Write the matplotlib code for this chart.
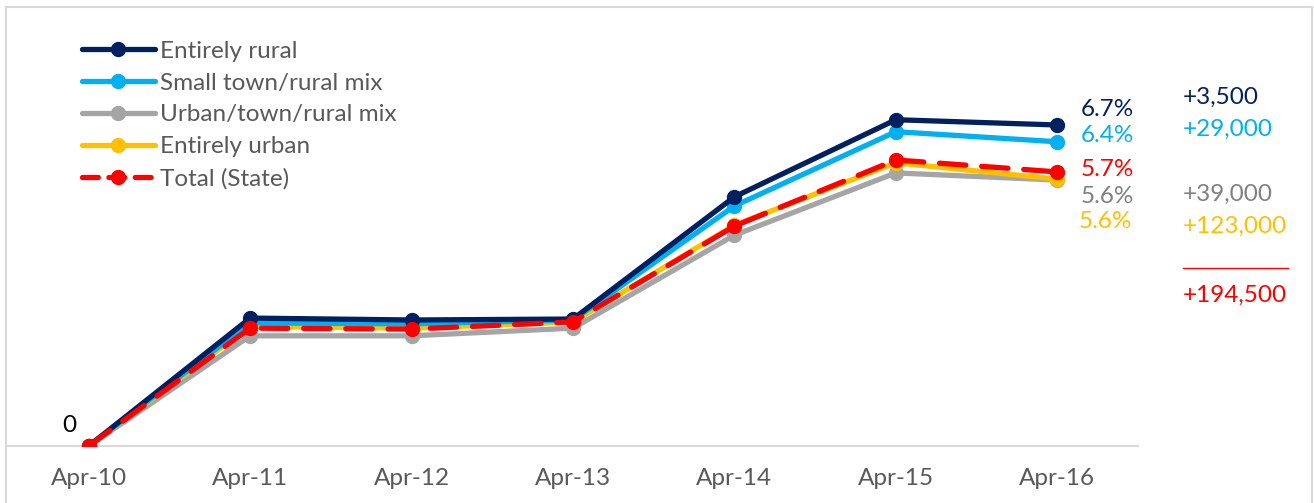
import matplotlib
matplotlib.use("Agg")
import matplotlib.pyplot as plt
from matplotlib.lines import Line2D

plt.rcParams['font.family'] = ['Lato', 'DejaVu Sans']

# Data (percent growth vs Apr-10)
months = ["Apr-10", "Apr-11", "Apr-12", "Apr-13", "Apr-14", "Apr-15", "Apr-16"]
entirely_rural = [0, 2.67, 2.63, 2.65, 5.20, 6.81, 6.70]
small_town = [0, 2.57, 2.55, 2.63, 5.01, 6.56, 6.35]
urban_town_rural = [0, 2.30, 2.30, 2.46, 4.40, 5.70, 5.55]
entirely_urban = [0, 2.50, 2.46, 2.59, 4.61, 5.91, 5.57]
total_state = [0, 2.46, 2.44, 2.59, 4.59, 5.97, 5.72]

series_names = ["Entirely rural", "Small town/rural mix", "Urban/town/rural mix",
                "Entirely urban", "Total (State)"]
end_labels = ["6.7%", "6.4%", "5.6%", "5.6%", "5.7%"]
change_labels = ["+3,500", "+29,000", "+39,000", "+123,000"]
total_change = "+194,500"

navy = "#002060"
lblue = "#00B0F0"
gray = "#A5A5A5"
yellow = "#FFC000"
red = "#FF0000"
txt = "#595959"
fs = 17.5

W, H = 1314, 503
fig = plt.figure(figsize=(W / 100, H / 100), dpi=100)
ax = fig.add_axes([8 / W, 1 - 446 / H, 1130 / W, 436 / H])

x = list(range(len(months)))
lw = 3.8
ms = 10
ax.plot(x, urban_town_rural, color=gray, lw=lw, marker='o', ms=ms, zorder=2,
        solid_capstyle='round')
ax.plot(x, entirely_urban, color=yellow, lw=lw, marker='o', ms=ms, zorder=3,
        solid_capstyle='round')
ax.plot(x, small_town, color=lblue, lw=lw, marker='o', ms=ms, zorder=4,
        solid_capstyle='round')
ax.plot(x, entirely_rural, color=navy, lw=lw, marker='o', ms=ms, zorder=5,
        solid_capstyle='round')
ax.plot(x, total_state, color=red, lw=lw, marker='o', ms=ms, zorder=6,
        dashes=(5, 3), dash_capstyle='round')

ax.set_xlim(-0.5, 6.5)
ax.set_ylim(0, 9.1)
ax.set_xticks(x)
ax.set_xticklabels(months, color=txt, fontsize=fs)
ax.tick_params(axis='x', length=0, pad=16)
ax.set_yticks([])
for s in ['top', 'right', 'left']:
    ax.spines[s].set_visible(False)
ax.spines['bottom'].set_color('#D9D9D9')
ax.spines['bottom'].set_linewidth(1.5)
ax.patch.set_alpha(0)

# legend
handles = [
    Line2D([], [], color=navy, lw=lw, marker='o', ms=ms, solid_capstyle='round'),
    Line2D([], [], color=lblue, lw=lw, marker='o', ms=ms, solid_capstyle='round'),
    Line2D([], [], color=gray, lw=lw, marker='o', ms=ms, solid_capstyle='round'),
    Line2D([], [], color=yellow, lw=lw, marker='o', ms=ms, solid_capstyle='round'),
    Line2D([], [], color=red, lw=lw, marker='o', ms=ms, dashes=(3, 2),
           dash_capstyle='round'),
]
leg = ax.legend(handles, series_names, loc='upper left', bbox_to_anchor=(0.0655, 0.929),
                frameon=False, fontsize=fs, handlelength=3.0, handletextpad=0.2,
                labelspacing=0.44, labelcolor=txt, borderaxespad=0, borderpad=0)

# end labels
end_series = [entirely_rural, small_town, urban_town_rural, entirely_urban, total_state]
end_colors = [navy, lblue, "#808080", yellow, red]
end_offsets = [(23, 15), (23, 6), (23, -16), (21, -42), (23, 2)]
for s, lab, c, off in zip(end_series, end_labels, end_colors, end_offsets):
    ax.annotate(lab, xy=(6, s[-1]), xytext=off, textcoords='offset pixels',
                color=c, fontsize=fs, ha='left', va='center')
ax.annotate("0", xy=(0, total_state[0]), xytext=(-19, 20), textcoords='offset pixels',
            color='black', fontsize=fs, ha='center', va='center')

# change column
change_colors = [navy, lblue, "#808080", yellow]
change_y = [97, 129, 194, 226]
for lab, c, yy in zip(change_labels, change_colors, change_y):
    fig.text(1183 / W, 1 - yy / H, lab, color=c, fontsize=fs, ha='left', va='center')
fig.add_artist(Line2D([1183 / W, 1288 / W], [1 - 268 / H, 1 - 268 / H], color=red, lw=1))
fig.text(1183 / W, 1 - 295 / H, total_change, color=red, fontsize=fs, ha='left', va='center')

# outer border
bc = '#D9D9D9'
fig.add_artist(Line2D([6 / W, 6 / W], [0, 1 - 7 / H], color=bc, lw=1.5))
fig.add_artist(Line2D([6 / W, 1312 / W], [1 - 7 / H, 1 - 7 / H], color=bc, lw=1.5))
fig.add_artist(Line2D([1312 / W, 1312 / W], [0, 1 - 7 / H], color=bc, lw=1.5))

fig.savefig("out.png", dpi=100)
